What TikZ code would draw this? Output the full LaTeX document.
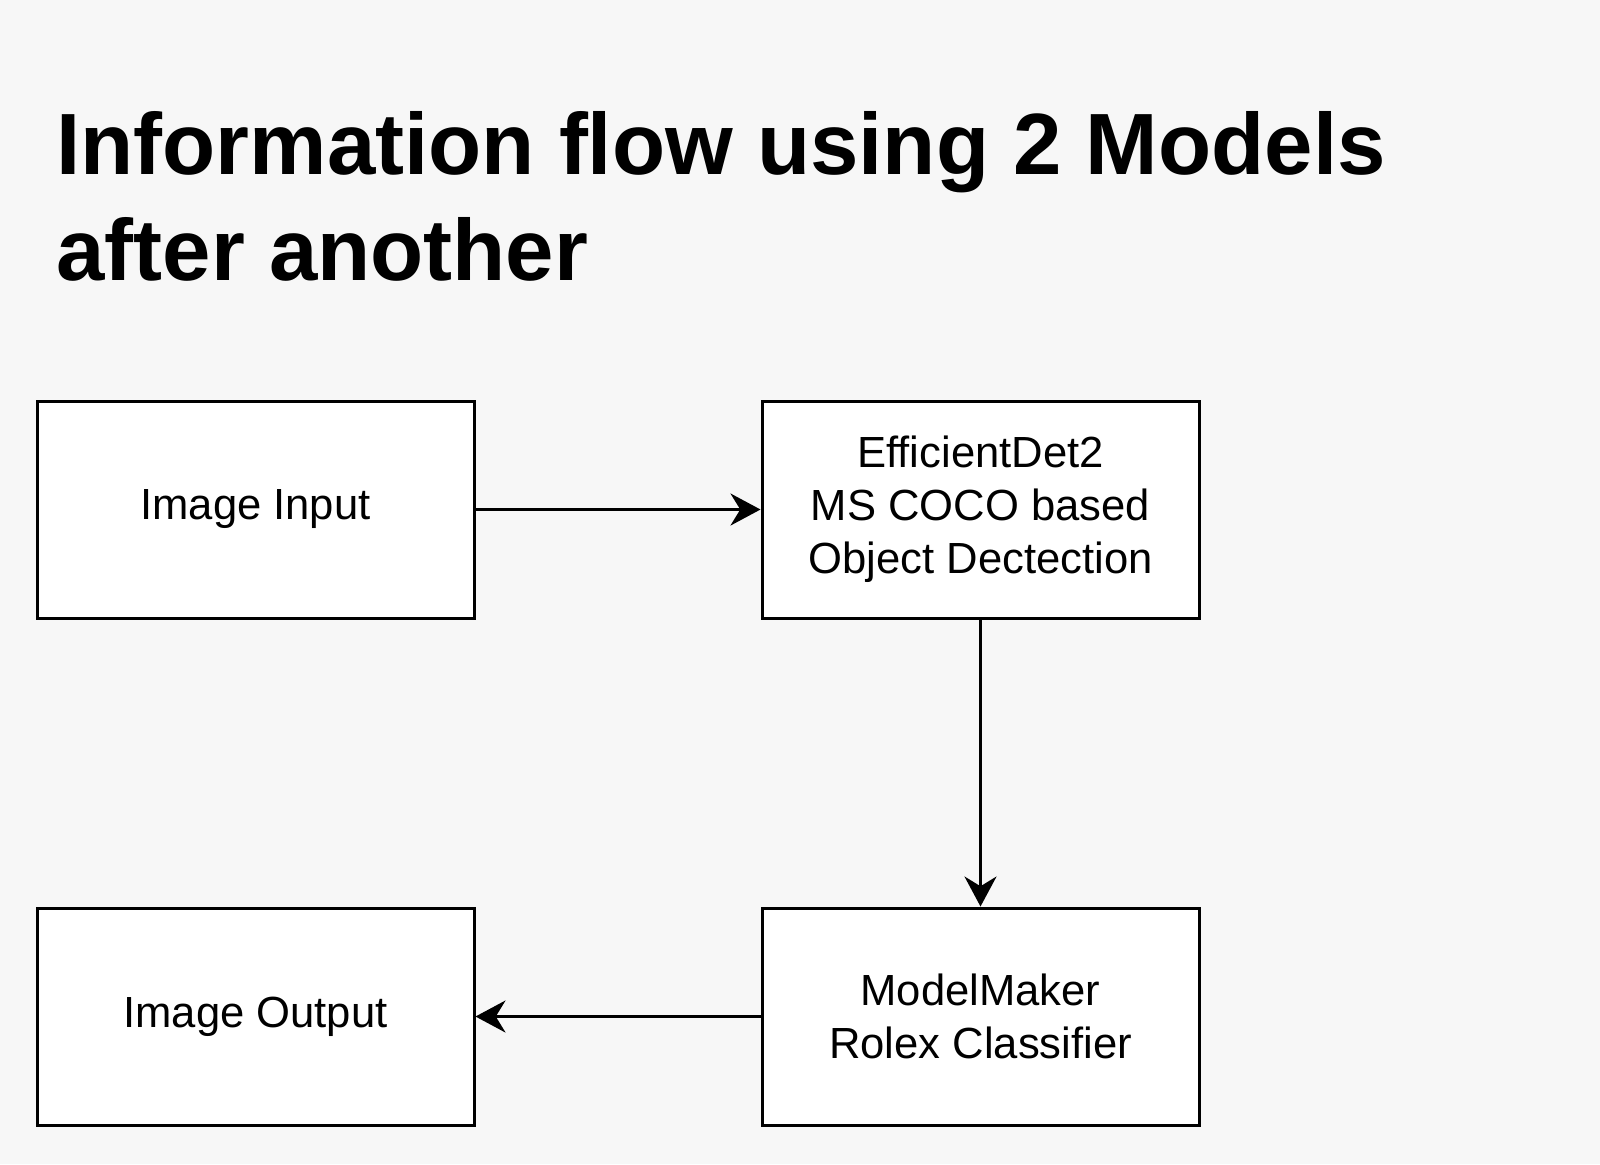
\documentclass[tikz,border=0pt]{standalone}
\usepackage{fontspec}
\setmainfont{Liberation Sans}
\usetikzlibrary{arrows.meta}
\definecolor{pagegrey}{HTML}{F7F7F7}
\tikzset{
  blockbox/.style={draw,line width=1.5pt,fill=white,minimum width=218.5pt,minimum height=108.5pt,
    inner sep=0pt,align=center,font=\fontsize{21.8}{26.5}\selectfont},
  flow/.style={line width=1.5pt,-{Stealth[length=15pt,width=16pt]}}
}
\begin{document}
\begin{tikzpicture}[x=0.5pt,y=-0.5pt]
\fill[pagegrey](0,0)rectangle(1600,1164);
\useasboundingbox(0,0)rectangle(1600,1164);
\node[anchor=base west,inner sep=0pt,align=left,font=\bfseries\fontsize{43.5}{53}\selectfont](title)at(56,280){Information flow using 2 Models\\after another};
\node[blockbox](input)at(255.5,509.5){Image Input};
\node[blockbox](detect)at(980.5,509.5){EfficientDet2\\MS COCO based\\Object Dectection};
\node[blockbox](classify)at(980.5,1016.5){ModelMaker\\Rolex Classifier};
\node[blockbox](output)at(255.5,1016.5){Image Output};
\draw[flow](input)--(detect);
\draw[flow](detect)--(classify);
\draw[flow](classify)--(output);
\end{tikzpicture}
\end{document}
